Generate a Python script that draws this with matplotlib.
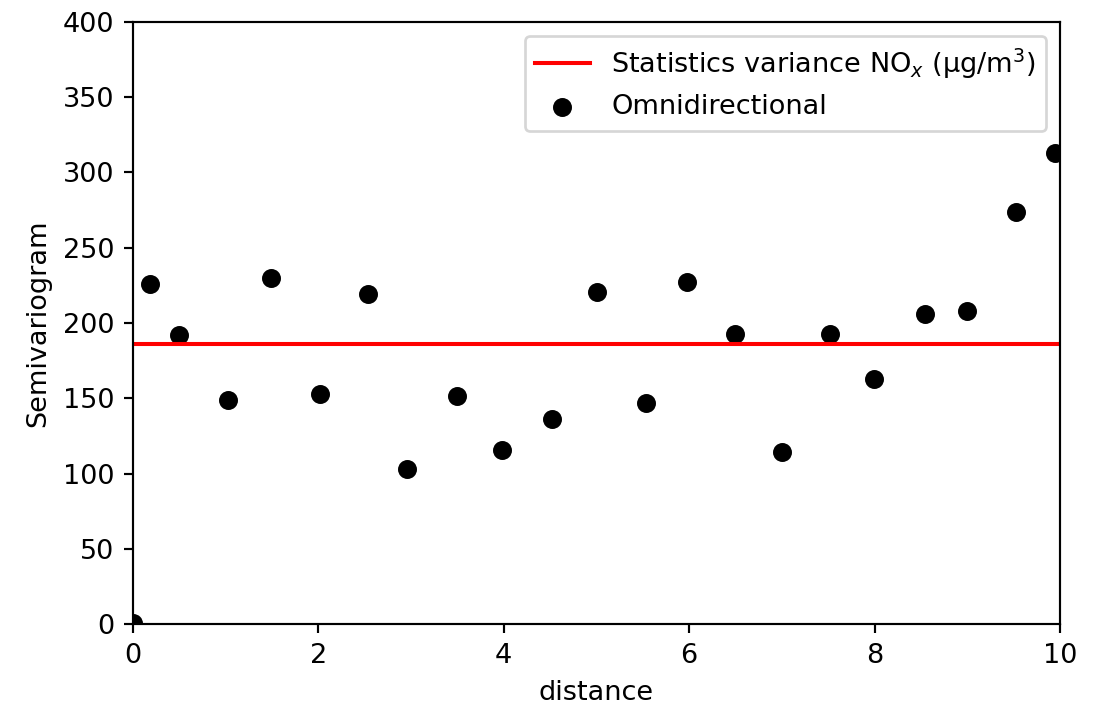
import matplotlib
matplotlib.use('Agg')
import matplotlib.pyplot as plt

lag = [0.0, 0.18, 0.50, 1.03, 1.49, 2.02, 2.53, 2.96, 3.50, 3.98, 4.52,
       5.00, 5.53, 5.98, 6.49, 7.00, 7.52, 7.99, 8.54, 9.00, 9.53, 9.95]
gamma = [0.5, 225.7, 192.0, 148.8, 229.7, 152.6, 219.5, 103.0, 151.5, 115.6,
         136.2, 220.6, 146.8, 227.2, 192.7, 114.1, 192.7, 162.8, 206.2, 208.0,
         274.0, 313.2]
variance = 186.2

DPI = 195
fig = plt.figure(figsize=(1099 / DPI, 706 / DPI), dpi=DPI)
ax = fig.add_axes([133 / 1099, 82 / 706, 927 / 1099, 602 / 706])

ax.axhline(variance, color='red', lw=1.5,
           label='Statistics variance NO$_x$ (µg/m$^3$)')
ax.scatter(lag, gamma, s=36, color='black', label='Omnidirectional')

ax.set_xlim(0, 10)
ax.set_ylim(0, 400)
ax.set_xlabel('distance')
ax.set_ylabel('Semivariogram')
ax.legend(loc='upper right')

fig.savefig('out.png', dpi=DPI)
